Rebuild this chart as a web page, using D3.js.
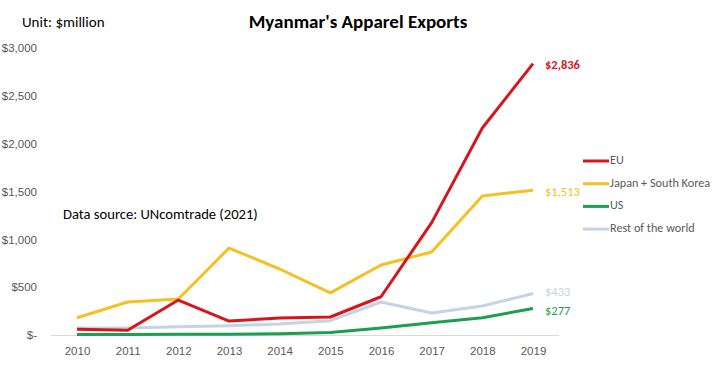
<!DOCTYPE html>
<html><head><meta charset="utf-8">
<script src="https://cdn.jsdelivr.net/npm/d3@7"></script>
<style>
body{margin:0;background:#fff;}
svg{display:block;font-family:Carlito,Lato,"Liberation Sans",sans-serif;}
</style></head>
<body>
<svg id="c" width="723" height="369"></svg>
<script>
const years = [2010,2011,2012,2013,2014,2015,2016,2017,2018,2019];
const seriesNames = ["EU","Japan + South Korea","US","Rest of the world"];
const euValues = [60,50,365,146,178,188,400,1175,2164,2836];
const jpValues = [180,345,376,909,690,440,732,868,1453,1513];
const usValues = [5,5,7,9,14,25,73,127,180,277];
const restValues = [72,72,85,96,115,150,345,230,303,433];
const endLabels = ["$2,836","$1,513","$277","$433"];
const yTicks = [0,500,1000,1500,2000,2500,3000];
const colors = ["#d7161c","#f4c125","#1d9f52","#c4d3e5"];

const allValues = [euValues,jpValues,usValues,restValues];
const svg = d3.select("#c");
const x = d3.scalePoint().domain(years).range([77,533]);
const y = d3.scaleLinear().domain([0,3000]).range([335,48]);

// y axis labels
const yAxis = d3.axisLeft(y).tickValues(yTicks).tickSize(0).tickPadding(0)
  .tickFormat(d => d===0 ? "$-" : "$" + d3.format(",")(d));
const gy = svg.append("g").attr("transform","translate(37,0)").call(yAxis);
gy.select(".domain").remove();
gy.selectAll("text").attr("fill","#595959").style("font-size","11.5px").style("font-family","inherit");

// x axis
const xAxis = d3.axisBottom(x).tickSize(0).tickPadding(12);
const gx = svg.append("g").attr("transform","translate(0,335)").call(xAxis);
gx.select(".domain").attr("stroke","#d9d9d9").attr("d","M51,0.5H559");
gx.selectAll("text").attr("fill","#595959").style("font-size","11.5px").style("font-family","inherit");

// lines (EU drawn last so it is on top)
const line = d3.line().x((d,i)=>x(years[i])).y(d=>y(d));
[3,2,1,0].forEach(k=>{
  svg.append("path").datum(allValues[k]).attr("d",line)
    .attr("fill","none").attr("stroke",colors[k]).attr("stroke-width",3)
    .attr("stroke-linejoin","round");
});

// end labels
const labelDy = [2,3,4,-1];
allValues.forEach((vals,k)=>{
  svg.append("text").attr("x",x(2019)+12).attr("y",y(vals[vals.length-1])+labelDy[k])
    .attr("dominant-baseline","middle").attr("fill",colors[k])
    .style("font-size","12.5px").style("font-weight",k===0?"bold":"normal")
    .text(endLabels[k]);
});

// legend
seriesNames.forEach((n,k)=>{
  const ly = 161 + k*22.7;
  svg.append("line").attr("x1",583).attr("x2",609).attr("y1",ly).attr("y2",ly)
    .attr("stroke",colors[k]).attr("stroke-width",3);
  svg.append("text").attr("x",610).attr("y",ly).attr("dominant-baseline","middle")
    .attr("fill","#595959").style("font-size","12.2px").text(n);
});

// title & notes
svg.append("text").attr("x",358).attr("y",28).attr("text-anchor","middle")
  .style("font-size","19px").style("font-weight","bold").attr("fill","#000")
  .text("Myanmar's Apparel Exports");
svg.append("text").attr("x",22).attr("y",27).style("font-size","15px").attr("fill","#000")
  .text("Unit: $million");
svg.append("text").attr("x",63).attr("y",219).style("font-size","14.6px").attr("fill","#000")
  .text("Data source: UNcomtrade (2021)");
</script>
</body></html>
